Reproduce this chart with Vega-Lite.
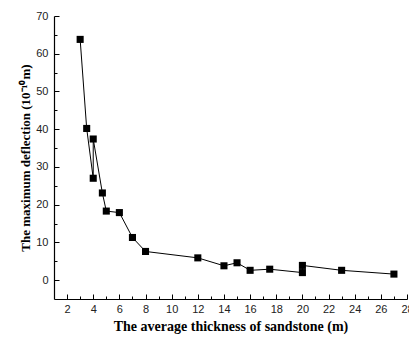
{
  "$schema": "https://vega.github.io/schema/vega-lite/v6.json",
  "width": 353,
  "height": 283,
  "autosize": "none",
  "padding": {"left": 54, "top": 16, "right": 2, "bottom": 39},
  "background": "white",
  "config": {"view": {"stroke": null}},
  "data": {"values": [
    {"i": 1, "t": 3.0, "d": 63.8},
    {"i": 2, "t": 3.5, "d": 40.2},
    {"i": 3, "t": 4.0, "d": 27.0},
    {"i": 4, "t": 4.0, "d": 37.4},
    {"i": 5, "t": 4.7, "d": 23.1},
    {"i": 6, "t": 5.0, "d": 18.3},
    {"i": 7, "t": 6.0, "d": 17.9},
    {"i": 8, "t": 7.0, "d": 11.3},
    {"i": 9, "t": 8.0, "d": 7.6},
    {"i": 10, "t": 12.0, "d": 5.9},
    {"i": 11, "t": 14.0, "d": 3.8},
    {"i": 12, "t": 15.0, "d": 4.6},
    {"i": 13, "t": 16.0, "d": 2.6},
    {"i": 14, "t": 17.5, "d": 2.9},
    {"i": 15, "t": 20.0, "d": 2.0},
    {"i": 16, "t": 20.0, "d": 3.9},
    {"i": 17, "t": 23.0, "d": 2.6},
    {"i": 18, "t": 27.0, "d": 1.6}
  ]},
  "encoding": {
    "x": {
      "field": "t", "type": "quantitative",
      "scale": {"domain": [1, 28], "nice": false, "zero": false},
      "axis": {
        "title": "The average thickness of sandstone (m)",
        "values": [2,3,4,5,6,7,8,9,10,11,12,13,14,15,16,17,18,19,20,21,22,23,24,25,26,27,28],
        "labelExpr": "datum.value % 2 == 0 ? datum.label : ''",
        "labelFlush": false,
        "tickSize": {"condition": {"test": "datum.value % 2 == 0", "value": -5}, "value": -3},
        "domainColor": "black", "tickColor": "black", "domainWidth": 1.2, "tickWidth": 1,
        "grid": false,
        "labelFont": "Liberation Sans", "labelFontSize": 11, "labelColor": "#222",
        "labelPadding": 9,
        "titleFont": "Liberation Serif", "titleFontSize": 14, "titleFontWeight": "bold", "titleColor": "black",
        "titlePadding": 5
      }
    },
    "y": {
      "field": "d", "type": "quantitative",
      "scale": {"domain": [-5, 70], "nice": false, "zero": false},
      "axis": {
        "title": "The maximum deflection (10⁻¹⁰m)",
        "values": [0,5,10,15,20,25,30,35,40,45,50,55,60,65,70],
        "labelExpr": "datum.value % 10 == 0 ? datum.label : ''",
        "labelFlush": false,
        "tickSize": {"condition": {"test": "datum.value % 10 == 0", "value": -5}, "value": -3},
        "domainColor": "black", "tickColor": "black", "domainWidth": 1.2, "tickWidth": 1,
        "grid": false,
        "labelFont": "Liberation Sans", "labelFontSize": 11, "labelColor": "#222",
        "labelPadding": 11,
        "titleFont": "Liberation Serif", "titleFontSize": 13, "titleFontWeight": "bold", "titleColor": "black",
        "titlePadding": 3
      }
    }
  },
  "layer": [
    {"mark": {"type": "line", "color": "black", "strokeWidth": 1}, "encoding": {"order": {"field": "i"}}},
    {"mark": {"type": "point", "shape": "square", "filled": true, "color": "black", "size": 50, "opacity": 1}}
  ]
}
